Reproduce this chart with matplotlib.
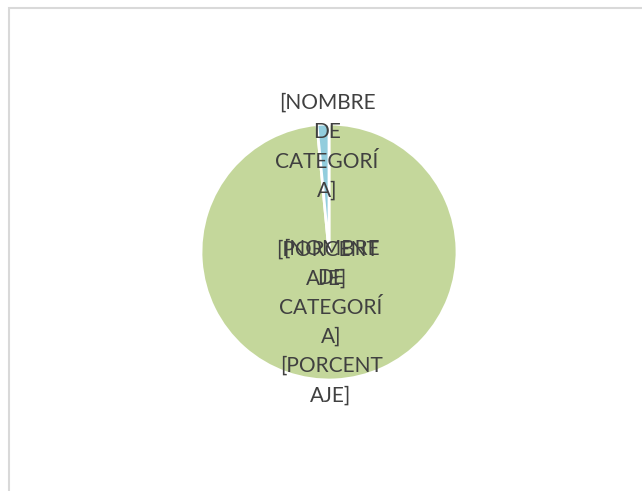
import matplotlib
matplotlib.use("Agg")
import matplotlib.pyplot as plt
from matplotlib.patches import Rectangle

# Slice values (percent) and placeholder labels as shown in the reference
values = [98.5, 1.5]
colors = ["#C4D79B", "#92CDDD"]
name_label = "[NOMBRE\nDE\nCATEGORÍ\nA]"
pct_label = "[PORCENT\nAJE]"

W, H = 642, 491
fig = plt.figure(figsize=(W / 100, H / 100), dpi=100)
ax = fig.add_axes([0, 0, 1, 1])

# chart area border (only left and top edges visible in the crop)
fig.patches.append(Rectangle((9 / W, -0.1), 1.2, (H - 8) / H + 0.1,
                             transform=fig.transFigure, fill=False,
                             edgecolor="#D9D9D9", linewidth=1.5))

cx, cy, r = 329, H - 252, 128
ax.pie(values, colors=colors, startangle=90, counterclock=False,
       center=(cx, cy), radius=r, frame=True,
       wedgeprops=dict(edgecolor="white", linewidth=2))
ax.set_xlim(0, W)
ax.set_ylim(0, H)
ax.set_aspect("equal")
ax.axis("off")

font = dict(family=["Lato", "DejaVu Sans"], fontsize=15, color="#404040",
            ha="center", va="top", linespacing=1.58)
# small (blue) slice label: name above the pie, percentage near the centre
ax.text(327, H - 93, name_label + "\n\n" + pct_label, **font)
# big (green) slice label
ax.text(331, H - 239, name_label + "\n" + pct_label, **font)

fig.savefig("out.png", dpi=100)
